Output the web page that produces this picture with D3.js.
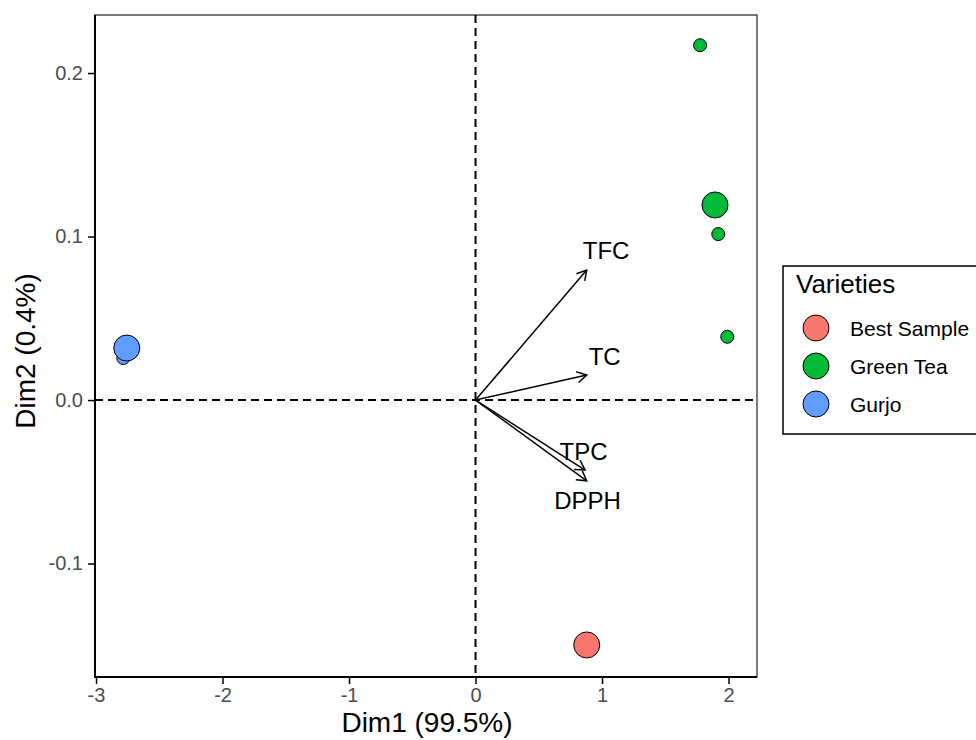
<!DOCTYPE html>
<html>
<head>
<meta charset="utf-8">
<script src="https://cdn.jsdelivr.net/npm/d3@7"></script>
<style>
  body { margin: 0; background: #fff; }
  text { font-family: "Liberation Sans", Arial, sans-serif; }
</style>
</head>
<body>
<div id="vis"></div>
<script>
// individuals (small points)
const indGroup = ["Best Sample", "Green Tea", "Green Tea", "Green Tea", "Gurjo"];
const indX = [0.879, 1.775, 1.919, 1.990, -2.784];
const indY = [-0.1498, 0.217, 0.1015, 0.0387, 0.0257];

// group centroids (big points)
const groups = ["Best Sample", "Green Tea", "Gurjo"];
const groupColors = ["#F8766D", "#00BA38", "#619CFF"];
const meanX = [0.879, 1.893, -2.757];
const meanY = [-0.1498, 0.1193, 0.0318];

// variable arrows + where their labels sit
const vars = ["TFC", "TC", "TPC", "DPPH"];
const varX = [0.879, 0.879, 0.866, 0.879];
const varY = [0.0795, 0.0153, -0.0428, -0.0494];
const labX = [1.032, 1.021, 0.854, 0.885];
const labY = [0.0862, 0.0214, -0.0367, -0.0667];

const xTicks = [-3, -2, -1, 0, 1, 2];
const yTicks = [-0.1, 0.0, 0.1, 0.2];

const width = 976, height = 740;
const pLeft = 95, pRight = 757, pTop = 15, pBottom = 677;

const svg = d3.select("#vis").append("svg")
    .attr("width", width)
    .attr("height", height);

svg.append("rect").attr("width", width).attr("height", height).attr("fill", "#fff");

const x = d3.scaleLinear().domain([-3.008, 2.225]).range([pLeft, pRight]);
const y = d3.scaleLinear().domain([-0.1694, 0.2355]).range([pBottom, pTop]);
const color = d3.scaleOrdinal().domain(groups).range(groupColors);

// panel border
svg.append("rect")
    .attr("x", pLeft).attr("y", pTop)
    .attr("width", pRight - pLeft).attr("height", pBottom - pTop)
    .attr("fill", "none")
    .attr("stroke", "#333")
    .attr("stroke-width", 1.3);

// zero lines
svg.append("line")
    .attr("x1", x(0)).attr("x2", x(0)).attr("y1", pTop).attr("y2", pBottom)
    .attr("stroke", "#000").attr("stroke-width", 2).attr("stroke-dasharray", "8,5");
svg.append("line")
    .attr("x1", pLeft).attr("x2", pRight).attr("y1", y(0)).attr("y2", y(0))
    .attr("stroke", "#000").attr("stroke-width", 2).attr("stroke-dasharray", "8,5");

// axes
const fmtY = d3.format(".1f");
const xAxis = svg.append("g")
    .attr("transform", `translate(0,${pBottom})`)
    .call(d3.axisBottom(x).tickValues(xTicks).tickSize(7).tickPadding(4)
        .tickFormat(d => d < 0 ? "-" + Math.abs(d) : String(d)));
const yAxis = svg.append("g")
    .attr("transform", `translate(${pLeft},0)`)
    .call(d3.axisLeft(y).tickValues(yTicks).tickSize(7).tickPadding(5)
        .tickFormat(d => d < 0 ? "-" + fmtY(Math.abs(d)) : fmtY(d)));

[xAxis, yAxis].forEach(a => {
    a.select(".domain").remove();
    a.selectAll(".tick line").attr("stroke", "#000").attr("stroke-width", 1.5);
    a.selectAll(".tick text")
        .attr("fill", "#4D4D4D")
        .style("font-size", "20px")
        .style("font-family", "'Liberation Sans', Arial, sans-serif");
});

// axis lines (left + bottom), heavier
svg.append("line").attr("x1", pLeft).attr("x2", pLeft).attr("y1", pTop).attr("y2", pBottom + 1)
    .attr("stroke", "#000").attr("stroke-width", 2);
svg.append("line").attr("x1", pLeft - 1).attr("x2", pRight).attr("y1", pBottom).attr("y2", pBottom)
    .attr("stroke", "#000").attr("stroke-width", 2);

// axis titles
svg.append("text")
    .attr("x", (pLeft + pRight) / 2 + 1).attr("y", 732)
    .attr("text-anchor", "middle")
    .style("font-size", "28px")
    .text("Dim1 (99.5%)");
svg.append("text")
    .attr("transform", `translate(35,${(pTop + pBottom) / 2 + 5}) rotate(-90)`)
    .attr("text-anchor", "middle")
    .style("font-size", "28px")
    .text("Dim2 (0.4%)");

// arrows
const arrows = svg.append("g").attr("stroke", "#000").attr("stroke-width", 1.5).attr("fill", "none");
vars.forEach((v, i) => {
    const x0 = x(0), y0 = y(0), x1 = x(varX[i]), y1 = y(varY[i]);
    arrows.append("line").attr("x1", x0).attr("y1", y0).attr("x2", x1).attr("y2", y1);
    const ang = Math.atan2(y1 - y0, x1 - x0);
    const hl = 11, ha = Math.PI / 6;
    arrows.append("path")
        .attr("d", `M${x1 - hl * Math.cos(ang - ha)},${y1 - hl * Math.sin(ang - ha)}L${x1},${y1}L${x1 - hl * Math.cos(ang + ha)},${y1 - hl * Math.sin(ang + ha)}`);
});

svg.append("g").selectAll("text")
    .data(vars)
    .join("text")
    .attr("x", (d, i) => x(labX[i]))
    .attr("y", (d, i) => y(labY[i]))
    .attr("text-anchor", "middle")
    .style("font-size", "24px")
    .text(d => d);

// individuals
svg.append("g").selectAll("circle")
    .data(indX)
    .join("circle")
    .attr("cx", d => x(d))
    .attr("cy", (d, i) => y(indY[i]))
    .attr("r", 6.5)
    .attr("fill", (d, i) => color(indGroup[i]))
    .attr("stroke", "#000")
    .attr("stroke-width", 1);

// centroids
svg.append("g").selectAll("circle")
    .data(groups)
    .join("circle")
    .attr("cx", (d, i) => x(meanX[i]))
    .attr("cy", (d, i) => y(meanY[i]))
    .attr("r", 13)
    .attr("fill", d => color(d))
    .attr("stroke", "#000")
    .attr("stroke-width", 1);

// legend
const legend = svg.append("g").attr("transform", "translate(783,266)");
legend.append("rect")
    .attr("x", 0).attr("y", 0)
    .attr("width", 260).attr("height", 168)
    .attr("fill", "#fff")
    .attr("stroke", "#000")
    .attr("stroke-width", 1.5);
legend.append("text")
    .attr("x", 13).attr("y", 27)
    .style("font-size", "26px")
    .text("Varieties");
const item = legend.selectAll(".item")
    .data(groups)
    .join("g")
    .attr("class", "item")
    .attr("transform", (d, i) => `translate(0,${62 + i * 38})`);
item.append("circle")
    .attr("cx", 33).attr("cy", 0).attr("r", 13)
    .attr("fill", d => color(d))
    .attr("stroke", "#000")
    .attr("stroke-width", 1);
item.append("text")
    .attr("x", 67).attr("y", 8)
    .style("font-size", "21px")
    .text(d => d);
</script>
</body>
</html>
